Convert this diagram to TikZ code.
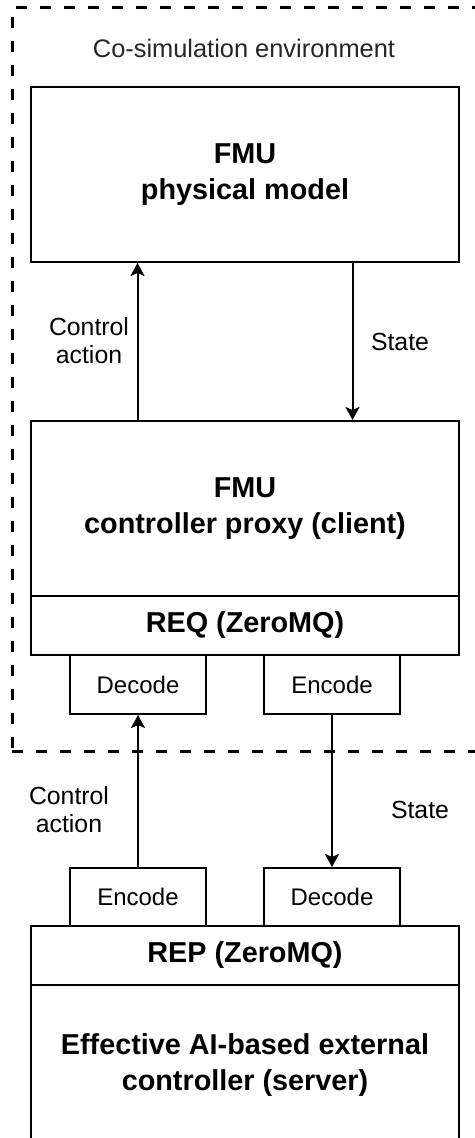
\documentclass[tikz,border=0pt]{standalone}
\usepackage{fontspec}
\setmainfont{Liberation Sans}
\usetikzlibrary{arrows.meta,calc}
\begin{document}
\begin{tikzpicture}[x=0.5pt,y=-0.5pt,
  box/.style={draw, line width=1pt, inner sep=0pt, align=center, font=\bfseries\fontsize{14.4}{18}\selectfont},
  small/.style={draw, line width=1pt, inner sep=0pt, minimum width=68pt, minimum height=29.5pt, font=\fontsize{12}{14}\selectfont},
  lbl/.style={align=center, font=\fontsize{12.4}{14}\selectfont, inner sep=0pt},
  arr/.style={line width=1pt, -{Stealth[length=6.5pt,width=7pt,inset=1.5pt]}},
  envbox/.style={draw, line width=1.5pt, dash pattern=on 5.5pt off 6.5pt, inner sep=0pt}
]
\path[use as bounding box] (0,0) rectangle (475,1138);
\clip (0,0) rectangle (475,1138);
\node[envbox, minimum width=232pt, minimum height=371.5pt] (env) at (244,379.5) {};
\node[lbl, font=\fontsize{12.7}{15}\selectfont, text=black!85] (envtitle) at (244,48) {Co-simulation environment};
\node[box, minimum width=214pt, minimum height=87.5pt] (phys) at (245,174.5) {FMU\\physical model};
\node[box, minimum width=214pt, minimum height=87.5pt] (proxy) at (245,508.5) {FMU\\controller proxy (client)};
\node[box, minimum width=214pt, minimum height=29.5pt] (req) at (245,625.5) {REQ (ZeroMQ)};
\node[small] (dectop) at (138,684.5) {Decode};
\node[small] (enctop) at (332,684.5) {Encode};
\node[small, minimum height=29pt] (encbot) at (138,897) {Encode};
\node[small, minimum height=29pt] (decbot) at (332,897) {Decode};
\node[box, minimum width=214pt, minimum height=29.5pt] (rep) at (245,955.5) {REP (ZeroMQ)};
\node[box, minimum width=214pt, minimum height=80pt] (server) at (245,1065) {Effective AI-based external\\controller (server)};
\draw[arr] ($(proxy.north west)!0.25!(proxy.north east)$) -- ($(phys.south west)!0.25!(phys.south east)$);
\draw[arr] ($(phys.south west)!0.75!(phys.south east)$) -- ($(proxy.north west)!0.75!(proxy.north east)$);
\draw[arr] (encbot.north) -- (dectop.south);
\draw[arr] (enctop.south) -- (decbot.north);
\node[lbl] (ca1) at (89,341) {Control\\action};
\node[lbl] (st1) at (400,342) {State};
\node[lbl] (ca2) at (69,810) {Control\\action};
\node[lbl] (st2) at (420,810) {State};
\end{tikzpicture}
\end{document}
